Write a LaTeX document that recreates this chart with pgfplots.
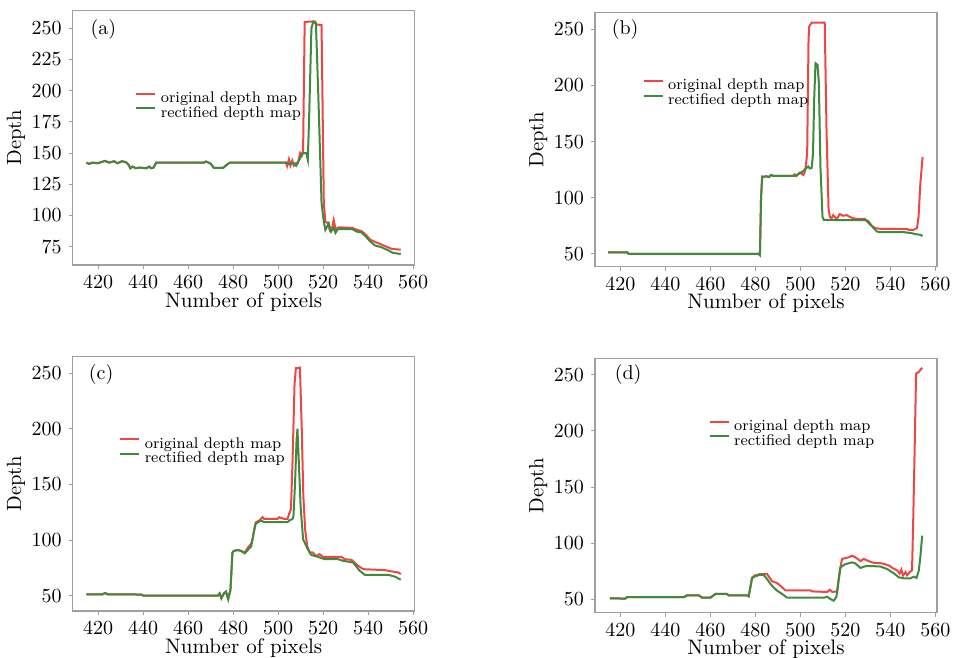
\documentclass[border=0pt]{standalone}
\usepackage{pgfplots}
\pgfplotsset{compat=1.18}
\definecolor{origred}{HTML}{F04545}
\definecolor{rectgreen}{HTML}{3D8B3D}

\pgfplotsset{
  depthpanel/.style={
    width=171pt, height=127.2pt, scale only axis,
    xmin=408.7, xmax=560.7, xtick={420,440,...,560},
    axis line style={gray!75, line width=0.6pt},
    tick style={gray!75, line width=0.5pt}, tick align=outside, major tick length=2pt,
    xtick pos=left, ytick pos=left,
    tick label style={font=\fontsize{10}{12}\selectfont},
    xlabel={Number of pixels}, ylabel={Depth},
    xlabel style={at={(axis description cs:0.5,-0.1443)}, anchor=center, font=\fontsize{10.5}{12}\selectfont},
    ylabel style={at={(axis description cs:-0.1658,0.5)}, anchor=center, font=\fontsize{10.3}{12}\selectfont},
    legend image code/.code={\draw[##1] (0pt,0.25em) -- (9.5pt,0.25em); \path (11.3pt,0.25em);},
    legend style={draw=none, fill=none, anchor=west, inner sep=0pt, row sep=-0.6pt,
      font=\fontsize{7.7}{9}\selectfont, nodes={inner sep=0.5pt}},
    legend cell align=left,
    every axis plot/.append style={line width=1pt},
  }
}

\begin{document}
\begin{tikzpicture}
\useasboundingbox (0,0) rectangle (477.5pt,329pt);

% (a)
\begin{axis}[depthpanel, at={(36.35pt,196.5pt)}, anchor=south west,
  ymin=60.3, ymax=264.1, ytick={75,100,...,250},
  legend style={at={(axis description cs:0.182,0.625)}}]
\addplot[origred] coordinates {(414.8,142.3)(416,141.3)(417.5,142.3)(419.7,141.8)(421.2,142.6)(423.1,143.7)(424.9,142.3)(427.1,143.4)(428.6,141.8)(430.6,143.4)(432.4,142.6)(433.6,140.5)(434.3,137.8)(435.3,139.1)(436.8,137.8)(438.3,138.3)(439.8,138.1)(441.3,137.8)(442.8,139.1)(443.5,137.8)(444.6,138.3)(445.8,142.3)(467,142.3)(468,143.2)(470,141.5)(471.5,138)(475.5,138)(477.5,141)(478.5,142.3)(503.5,142.3)(504,139.5)(504.8,145)(505.5,140)(506.3,144)(507,140)(507.8,142)(508.8,142)(509.8,150)(510.5,148)(511.1,152)(511.8,255)(516.3,255.5)(517,253)(519.3,252.5)(520.3,110)(521,95)(522,94)(523,88)(524,90)(524.7,96.4)(525.5,89)(527,90.5)(533,90)(535,88.5)(537,87.5)(538.7,85)(541,80.5)(543.2,78.7)(546.2,76.5)(548.5,74.7)(550.7,73.1)(554.5,72.6)};
\addlegendentry{original depth map}
\addplot[rectgreen] coordinates {(414.8,142.3)(416,141.3)(417.5,142.3)(419.7,141.8)(421.2,142.6)(423.1,143.7)(424.9,142.3)(427.1,143.4)(428.6,141.8)(430.6,143.4)(432.4,142.6)(433.6,140.5)(434.3,137.8)(435.3,139.1)(436.8,137.8)(438.3,138.3)(439.8,138.1)(441.3,137.8)(442.8,139.1)(443.5,137.8)(444.6,138.3)(445.8,142.3)(467,142.3)(468,143.2)(470,141.5)(471.5,138)(475.5,138)(477.5,141)(478.5,142.3)(503.5,142.3)(505,141)(506.5,142)(508,139.7)(509.5,145)(511,149.8)(512.5,150)(513.2,144.5)(513.8,180)(514.8,250)(515.6,255)(516.8,254)(517.8,200)(519.3,110)(520.3,95)(521,88.4)(522.5,93.7)(523.5,87)(524.7,90)(525.5,86)(526.5,89)(533,89)(535,87)(537,86.5)(539,83)(541,79)(543,76)(546,74.5)(549,72)(551,70)(554.5,69.1)};
\addlegendentry{rectified depth map}
\node[font=\fontsize{10}{12}\selectfont] at (axis description cs:0.0895,0.927) {(a)};
\end{axis}

% (b)
\begin{axis}[depthpanel, at={(297.5pt,195.65pt)}, anchor=south west,
  ymin=38.7, ymax=265, ytick={50,100,...,250},
  legend style={at={(axis description cs:0.138,0.681)}}]
\addplot[origred] coordinates {(414.5,51.5)(423,51.5)(423.7,50)(481.5,50)(482,49)(482.5,100)(483,118.8)(485,119)(486,118.5)(487,120.3)(488,119.5)(496.7,119.5)(497.5,120.9)(498.3,119.4)(499.8,122.4)(501.3,120.3)(502,123.3)(502.4,128)(503,140)(503.6,240)(503.9,252.3)(505,255.9)(510.8,255.9)(511.6,160)(512.5,90)(513.1,83)(513.8,81.7)(514.6,84.6)(516.1,80.8)(517.5,85.5)(519,84)(520.5,84.6)(522,83)(523.5,81.7)(525,81.2)(528.7,81.2)(529.5,79)(531,76)(533.2,73)(535.4,72.4)(547.3,72.4)(548,71.5)(550.3,71.5)(551.8,73)(552.5,83)(553.3,112.7)(554.3,136.4)};
\addlegendentry{original depth map}
\addplot[rectgreen] coordinates {(414.5,51.5)(423,51.5)(423.7,50)(481.5,50)(482,49)(482.5,100)(483,118.8)(485,119)(486,118.5)(487,120.3)(488,119.5)(496.7,119.5)(498.2,119.7)(499.5,121.8)(501,123.3)(502.5,126.3)(503.5,127.8)(504.2,126)(505,126.5)(505.6,139.6)(506.1,187)(506.7,219.7)(507.6,218.2)(508.2,202)(508.9,127.7)(509.8,83.2)(510.4,80.3)(529.5,80)(530.2,79)(532.5,73)(534,70)(535.4,69.4)(546,69.4)(549.5,68.5)(550.3,68)(553.3,67)(554.3,66)};
\addlegendentry{rectified depth map}
\node[font=\fontsize{10}{12}\selectfont] at (axis description cs:0.088,0.933) {(b)};
\end{axis}

% (c)
\begin{axis}[depthpanel, at={(36.35pt,23.5pt)}, anchor=south west,
  ymin=36.2, ymax=264.9, ytick={50,100,...,250},
  legend style={at={(axis description cs:0.135,0.627)}}]
\addplot[origred] coordinates {(414.8,51.2)(421.9,51.2)(423.1,52.4)(424.2,51.2)(439.1,51)(440.1,50)(473.3,50)(474,52)(474.8,47.6)(475.9,52)(476.8,53.6)(477.8,48)(478.8,55)(479.7,88.7)(480.3,90.2)(482,91)(483.5,90.2)(485.2,88.8)(486.5,93)(487.9,96.4)(488.6,100)(489.4,110)(490.1,116)(491.6,117.5)(493.1,120.5)(493.8,119)(499.7,119)(500.5,120.5)(502.7,119)(504.2,119)(504.9,123.5)(505.7,128)(506.4,170)(507.3,240)(507.9,254.5)(509.7,255)(510.5,200)(511.2,140)(512,109.7)(512.9,94.8)(514,88.8)(515.4,88.8)(516.9,85.8)(518.4,87.3)(519.9,84.9)(528.1,84.9)(529.6,82.8)(532.6,82.2)(535.6,76.8)(537.8,73.8)(547.5,72.9)(549,72.3)(553.5,70.8)(554.5,69.3)};
\addlegendentry{original depth map}
\addplot[rectgreen] coordinates {(414.8,51.2)(421.9,51.2)(423.1,52.4)(424.2,51.2)(439.1,51)(440.1,50)(473.3,50)(474,52)(474.8,47.6)(475.9,52)(476.8,53.6)(477.8,46.5)(478.8,55)(479.7,88.7)(480.3,90.2)(482,91)(483.5,90.2)(485.2,88)(486.5,91)(488,94)(489,105)(490,114.6)(492.4,117.5)(493.8,116)(504.2,116)(504.9,117.5)(506.4,119)(506.8,121)(507.5,150)(508.2,190)(508.6,200)(509.2,170)(510,130)(511.1,100.7)(513.2,91.7)(514.7,86.6)(517.7,84.9)(520.7,82.8)(526.6,82.8)(528.9,81.3)(533.3,79.8)(536.3,72.3)(538.5,68.7)(549,68.7)(552,67)(554.5,64.3)};
\addlegendentry{rectified depth map}
\node[font=\fontsize{10}{12}\selectfont] at (axis description cs:0.083,0.931) {(c)};
\end{axis}

% (d)
\begin{axis}[depthpanel, at={(297.5pt,22.65pt)}, anchor=south west,
  ymin=37.8, ymax=264.9, ytick={50,100,...,250},
  legend style={at={(axis description cs:0.331,0.702)}}]
\addplot[origred] coordinates {(415.3,50.6)(422.2,50.4)(423,51.8)(448.4,51.8)(449.6,53.3)(454.8,53.3)(456.3,51.2)(460,51.2)(462.2,54.5)(467.4,54.5)(468.1,53.2)(476.3,53.2)(477,52.4)(478.5,69)(479.7,71)(482.2,72.3)(485.2,72.3)(485.9,70.2)(487.4,65.8)(489.6,64.3)(491.9,60.4)(493.3,57.8)(504.4,57.8)(505.2,56.8)(511.9,56.3)(513.1,58.3)(514.1,56.3)(516.3,56.8)(517.5,75.4)(518.5,85.8)(521.5,87.3)(523,88.7)(524.4,87.3)(526.7,83.8)(528.1,85.8)(530.4,83.8)(532.6,82.3)(535.6,82)(537,81.4)(539.3,80)(541.5,77)(543,75.6)(544.1,72.6)(544.9,76.2)(545.6,71.1)(546.7,74)(547.4,71.1)(548.6,74)(549.6,75.6)(550.1,117.3)(550.7,176.8)(551.4,251.2)(552.6,252.7)(554.1,256.5)};
\addlegendentry{original depth map}
\addplot[rectgreen] coordinates {(415.3,50.6)(422.2,50.4)(423,51.8)(448.4,51.8)(449.6,53.3)(454.8,53.3)(456.3,51.2)(460,51.2)(462.2,54.5)(467.4,54.5)(468.1,53.2)(476.3,53.2)(477,52.4)(478.5,68.5)(479.7,70.2)(482.2,71.7)(483.7,71.4)(485.2,67.8)(486.7,63.4)(488.1,60.4)(489.6,57.5)(491.9,54.5)(494.1,51.2)(510.4,51.2)(511.9,52)(513.3,50)(514.8,48.5)(516,52)(517,66.9)(517.8,78.3)(520,81.2)(523,82.7)(524.4,81.8)(526.7,77.8)(528.9,79.3)(531.1,79.5)(535.6,79)(538.5,76.8)(541.5,73)(543.7,69.4)(545.9,68.5)(548.9,68.5)(550.4,70)(551.6,68.8)(552.6,75.4)(553.3,87.3)(554.1,106.6)};
\addlegendentry{rectified depth map}
\node[font=\fontsize{10}{12}\selectfont] at (axis description cs:0.097,0.937) {(d)};
\end{axis}
\end{tikzpicture}
\end{document}
